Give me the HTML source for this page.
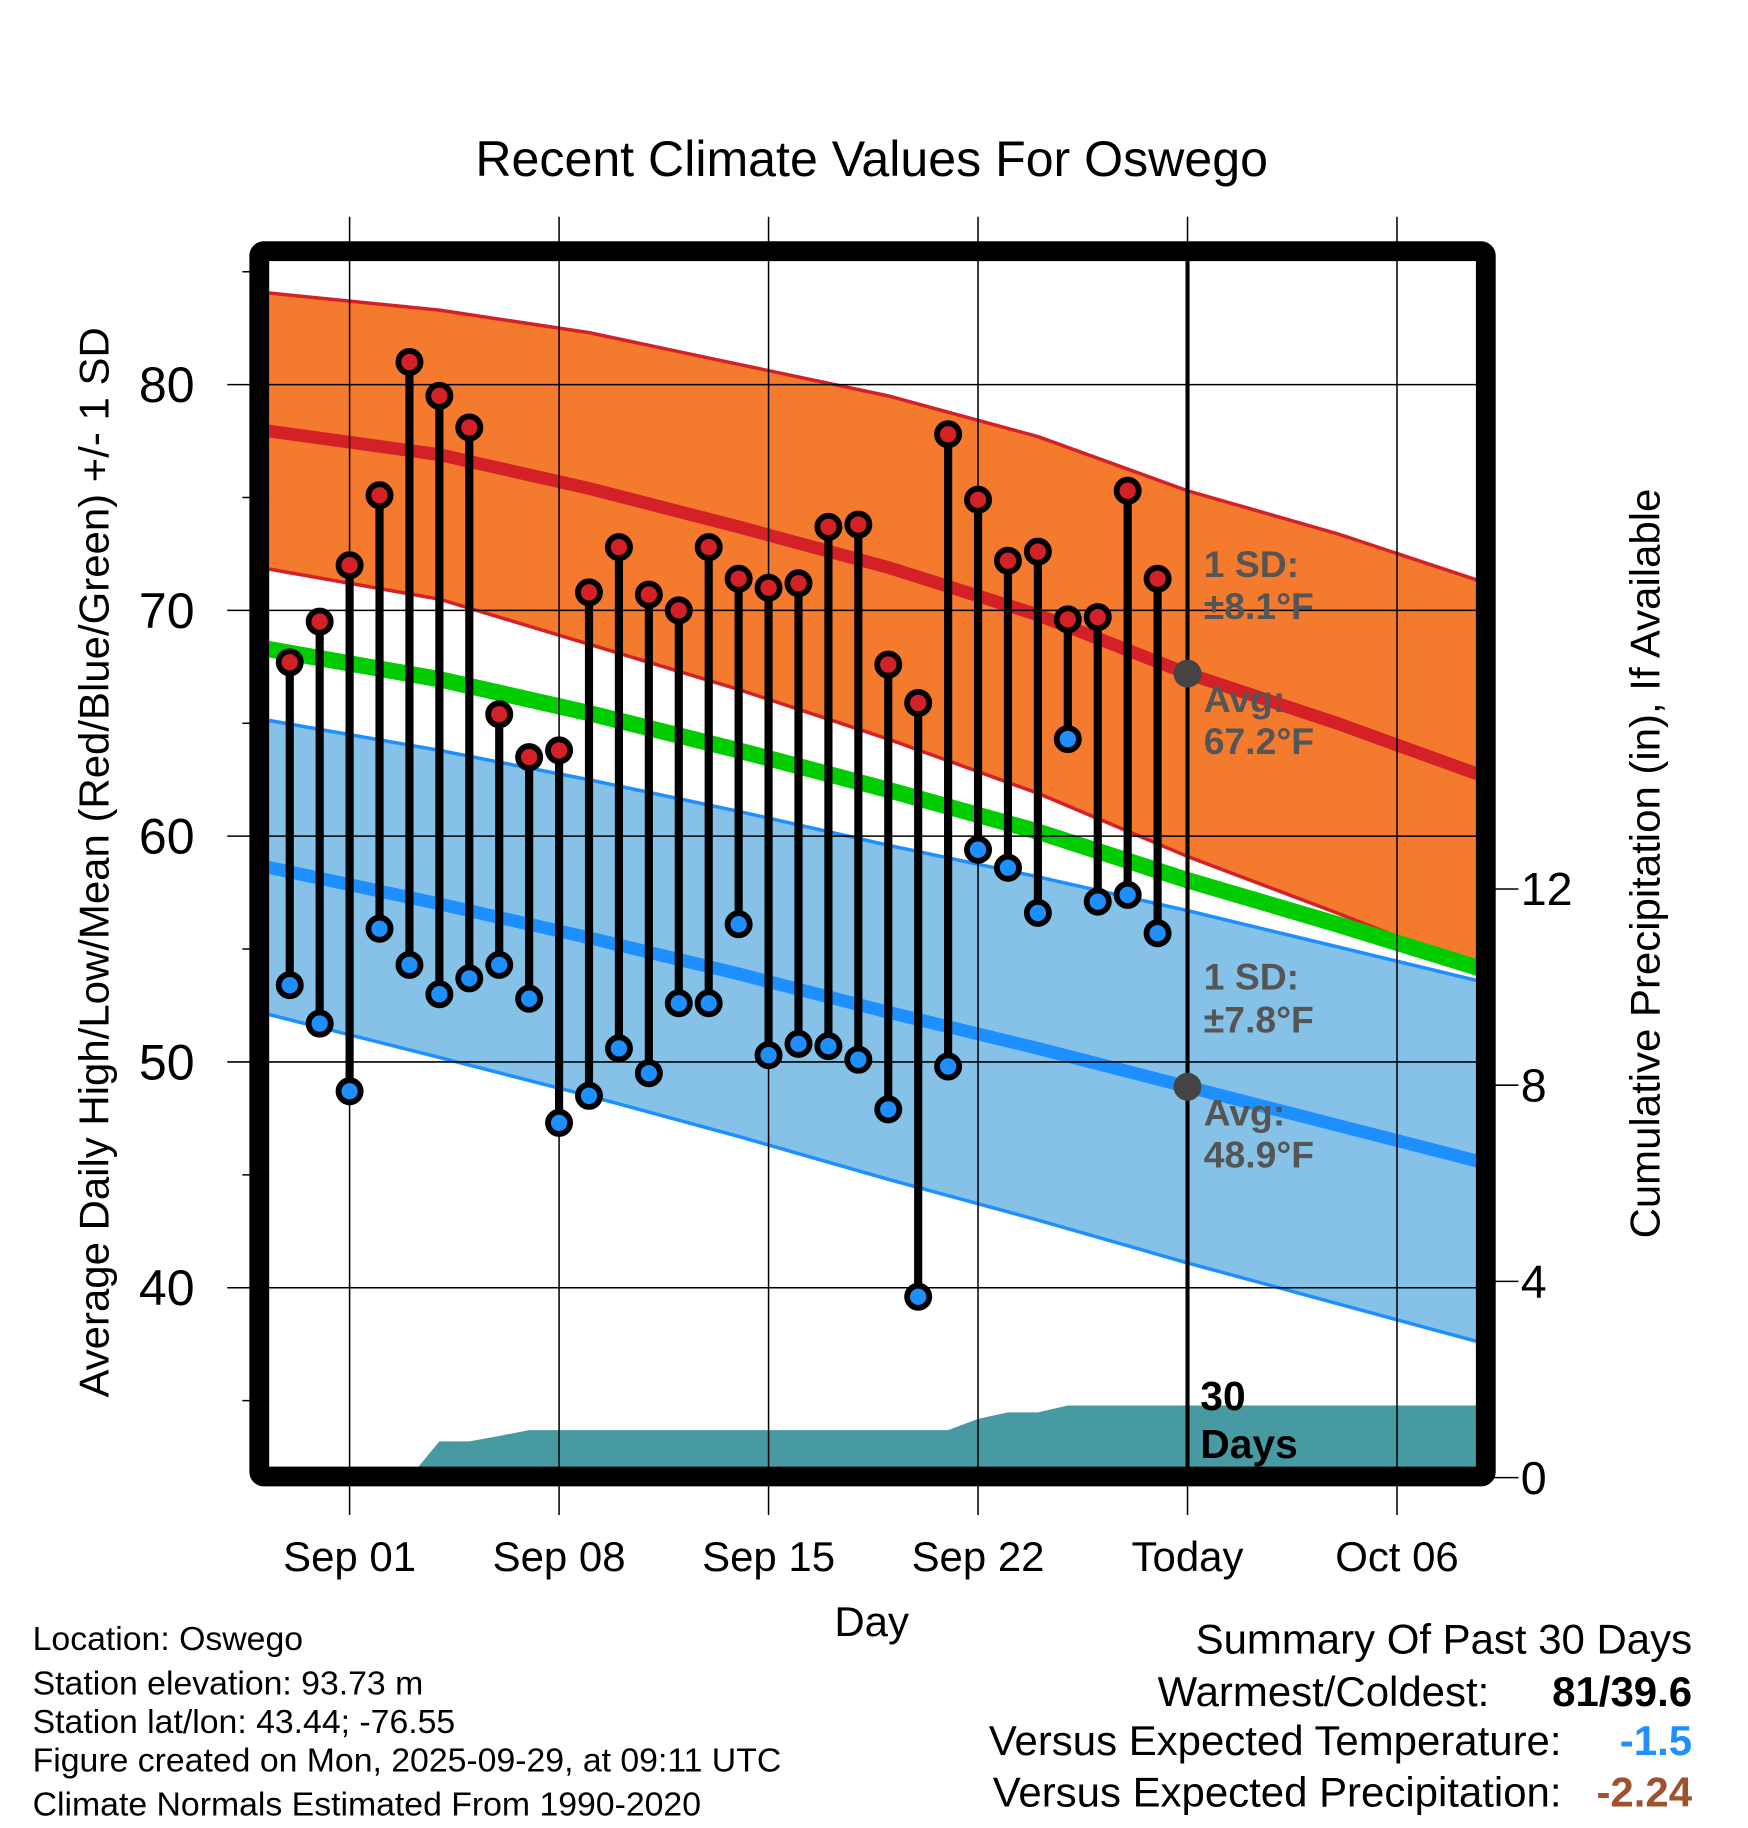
<!DOCTYPE html>
<html><head><meta charset="utf-8"><style>
html,body{margin:0;padding:0;background:#fff}
svg{display:block;font-family:"Liberation Sans",Arial,sans-serif}
</style></head><body>
<svg id="chart" width="1748" height="1828" viewBox="0 0 1500 1568.6" xmlns="http://www.w3.org/2000/svg">
<g id="bands"></g>
<g id="precip"></g>
<g id="grid"></g>
<g id="marks"></g>
<g id="axes"></g>
<text x="748" y="151" font-size="43" text-anchor="middle">Recent Climate Values For Oswego</text>
<text x="748" y="1404" font-size="36" text-anchor="middle">Day</text>
<text transform="translate(93,740) rotate(-90)" font-size="36" text-anchor="middle">Average Daily High/Low/Mean (Red/Blue/Green) +/- 1 SD</text>
<text transform="translate(1424,741) rotate(-90)" font-size="36" text-anchor="middle">Cumulative Precipitation (in), If Available</text>
<g font-size="32" font-weight="bold" fill="#555">
<text x="1033" y="495">1 SD:</text><text x="1033" y="531">±8.1°F</text>
<text x="1033" y="611">Avg:</text><text x="1033" y="647">67.2°F</text>
<text x="1033" y="849">1 SD:</text><text x="1033" y="886">±7.8°F</text>
<text x="1033" y="966">Avg:</text><text x="1033" y="1002">48.9°F</text>
<text x="1030" y="1210" fill="#000" font-size="35">30</text><text x="1030" y="1251" fill="#000" font-size="35">Days</text>
</g>
<g font-size="29">
<text x="28" y="1416">Location: Oswego</text>
<text x="28" y="1454">Station elevation: 93.73 m</text>
<text x="28" y="1487">Station lat/lon: 43.44; -76.55</text>
<text x="28" y="1520">Figure created on Mon, 2025-09-29, at 09:11 UTC</text>
<text x="28" y="1558">Climate Normals Estimated From 1990-2020</text>
</g>
<g font-size="36">
<text x="1452" y="1419" text-anchor="end">Summary Of Past 30 Days</text>
<text x="1278" y="1464" text-anchor="end">Warmest/Coldest:</text>
<text x="1452" y="1464" text-anchor="end" font-weight="bold">81/39.6</text>
<text x="1340" y="1506" text-anchor="end">Versus Expected Temperature:</text>
<text x="1452" y="1506" text-anchor="end" font-weight="bold" fill="#1e90ff">-1.5</text>
<text x="1340" y="1550" text-anchor="end">Versus Expected Precipitation:</text>
<text x="1452" y="1550" text-anchor="end" font-weight="bold" fill="#a0522d">-2.24</text>
</g>
</svg>
<script>
// day index: 0 = Sep 01
const obsDays = [-2,-1,0,1,2,3,4,5,6,7,8,9,10,11,12,13,14,15,16,17,18,19,20,21,22,23,24,25,26,27];
const highs = [67.7,69.5,72.0,75.1,81.0,79.5,78.1,65.4,63.5,63.8,70.8,72.8,70.7,70.0,72.8,71.4,71.0,71.2,73.7,73.8,67.6,65.9,77.8,74.9,72.2,72.6,69.6,69.7,75.3,71.4];
const lows = [53.4,51.7,48.7,55.9,54.3,53.0,53.7,54.3,52.8,47.3,48.5,50.6,49.5,52.6,52.6,56.1,50.3,50.8,50.7,50.1,47.9,39.6,49.8,59.4,58.6,56.6,64.3,57.1,57.4,55.7];
const precipDays = [-3,2,3,4,5,6,20,21,22,23,24,38];
const precipCum = [0,0,0.74,0.74,0.85,0.97,0.97,1.2,1.33,1.33,1.47,1.47];
const normDays = [-3,3,8,13,18,23,28,33,38];
const highAvg = [78.0,76.9,75.4,73.7,71.9,69.8,67.2,65.0,62.6];
const highSD = [6.1,6.4,6.9,7.2,7.6,7.9,8.1,8.4,8.6];
const lowAvg = [58.7,57.0,55.5,53.9,52.2,50.6,48.9,47.2,45.5];
const lowSD = [6.5,6.8,7.0,7.2,7.4,7.6,7.8,7.9,8.0];
const xTickDays = [0,7,14,21,28,35];
const xTickLabels = ["Sep 01","Sep 08","Sep 15","Sep 22","Today","Oct 06"];
const yTicks = [40,50,60,70,80];
const yMinor = [35,45,55,65,75,85];
const pTicks = [0,4,8,12];
const todayDay = 28;

const L=231,R=1267,T=224,B=1260;
const x = d => 300 + d*25.68;
const y = t => 330 + (80-t)*19.375;
const yp = p => 1268 - p*42.1;
const NS="http://www.w3.org/2000/svg";
function mk(parent,tag,attrs){const e=document.createElementNS(NS,tag);for(const k in attrs)e.setAttribute(k,attrs[k]);document.getElementById(parent).appendChild(e);return e;}
function pts(days,vals,fy){return days.map((d,i)=>x(d).toFixed(1)+","+fy(vals[i]).toFixed(1));}

const defs=document.createElementNS(NS,"defs");
defs.innerHTML='<clipPath id="pc"><rect x="'+L+'" y="'+T+'" width="'+(R-L)+'" height="'+(B-T)+'"/></clipPath>';
document.getElementById("chart").insertBefore(defs,document.getElementById("chart").firstChild);
["bands","precip","marks"].forEach(id=>document.getElementById(id).setAttribute("clip-path","url(#pc)"));

const hiU=highAvg.map((v,i)=>v+highSD[i]), hiL=highAvg.map((v,i)=>v-highSD[i]);
const loU=lowAvg.map((v,i)=>v+lowSD[i]), loL=lowAvg.map((v,i)=>v-lowSD[i]);
const mean=highAvg.map((v,i)=>(v+lowAvg[i])/2);
const rev=a=>a.slice().reverse();
let e;
e=mk("bands","polygon",{points:pts(normDays,hiU,y).concat(rev(pts(normDays,hiL,y))).join(" "),fill:"#f47a2e"});


e=mk("bands","polygon",{points:pts(normDays,loU,y).concat(rev(pts(normDays,loL,y))).join(" "),fill:"#86c2e8"});


[[hiU,"#d42027",3,"high-upper-edge"],[hiL,"#d42027",3,"high-lower-edge"],[loU,"#1e8fff",3,"low-upper-edge"],[loL,"#1e8fff",3,"low-lower-edge"],[highAvg,"#d42027",11,"high-average-line"],[lowAvg,"#1e8fff",11,"low-average-line"],[mean,"#00cc00",14,"mean-line"]].forEach(s=>{
  e=mk("bands","polyline",{points:pts(normDays,s[0],y).join(" "),fill:"none",stroke:s[1],"stroke-width":s[2],"stroke-linejoin":"round"});
  
  
});
e=mk("precip","polygon",{points:pts(precipDays,precipCum,yp).concat([x(38)+","+yp(0),x(-3)+","+yp(0)]).join(" "),fill:"#479aa2"});



xTickDays.forEach(d=>{e=mk("grid","line",{x1:x(d),x2:x(d),y1:186,y2:1300,stroke:"#000","stroke-width":1.3});

});
yTicks.forEach(t=>{e=mk("grid","line",{x1:195,x2:R,y1:y(t),y2:y(t),stroke:"#000","stroke-width":1.3});

});
yMinor.forEach(t=>{e=mk("grid","line",{x1:208,x2:L,y1:y(t),y2:y(t),stroke:"#000","stroke-width":1.3});

});
pTicks.forEach(p=>{e=mk("grid","line",{x1:R,x2:1303,y1:yp(p),y2:yp(p),stroke:"#000","stroke-width":1.3});

});
e=mk("grid","line",{x1:x(todayDay),x2:x(todayDay),y1:T,y2:B,stroke:"#000","stroke-width":3.5});


e=mk("grid","circle",{cx:x(todayDay),cy:y(highAvg[normDays.indexOf(todayDay)]),r:12,fill:"#444"});


e=mk("grid","circle",{cx:x(todayDay),cy:y(lowAvg[normDays.indexOf(todayDay)]),r:12,fill:"#444"});



obsDays.forEach((d,i)=>{
  e=mk("marks","line",{x1:x(d),x2:x(d),y1:y(highs[i]),y2:y(lows[i]),stroke:"#000","stroke-width":7});
  
  
});
obsDays.forEach((d,i)=>{
  e=mk("marks","circle",{cx:x(d),cy:y(highs[i]),r:9.5,fill:"#d42027",stroke:"#000","stroke-width":5});
  
  
  e=mk("marks","circle",{cx:x(d),cy:y(lows[i]),r:9.5,fill:"#1e8fff",stroke:"#000","stroke-width":5});
  
  
});

e=mk("axes","rect",{x:222.5,y:215.5,width:1052.5,height:1051.5,fill:"none",stroke:"#000","stroke-width":17,rx:4});


xTickDays.forEach((d,i)=>{e=mk("axes","text",{x:x(d),y:1348,"font-size":36,"text-anchor":"middle"});e.textContent=xTickLabels[i];

});
yTicks.forEach(t=>{e=mk("axes","text",{x:167,y:y(t)+15,"font-size":43,"text-anchor":"end"});e.textContent=t;

});
pTicks.forEach(p=>{e=mk("axes","text",{x:1305,y:yp(p)+14,"font-size":40});e.textContent=p;

});
</script>
</body></html>
